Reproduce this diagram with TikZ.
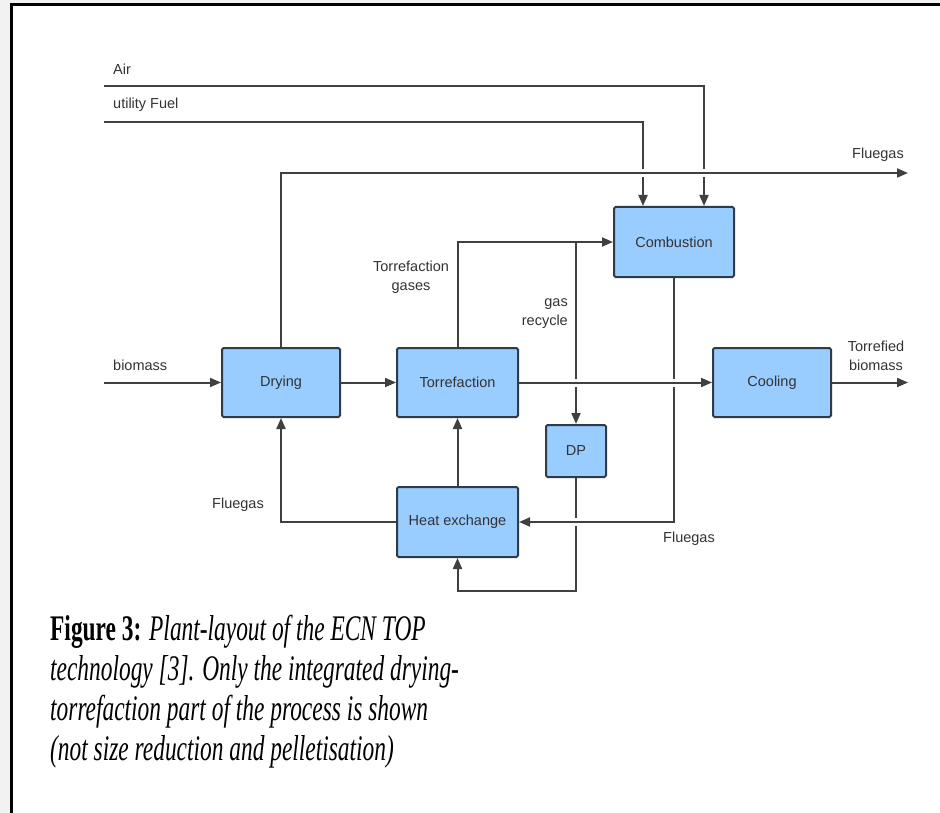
\documentclass[tikz,border=0pt]{standalone}
\usepackage{fontspec}
\setmainfont{Liberation Sans}
\newfontfamily\capfont{Liberation Serif}
\usetikzlibrary{arrows.meta,calc}
\pgfdeclarelayer{back}
\pgfdeclarelayer{lines}
\pgfsetlayers{back,lines,main}
\definecolor{boxfill}{HTML}{99CCFF}
\definecolor{boxline}{HTML}{2F3B45}
\definecolor{linecol}{HTML}{404040}
\definecolor{txtcol}{HTML}{333333}
\definecolor{outside}{HTML}{F2F2F2}
\begin{document}
\begin{tikzpicture}[x=1pt,y=-1pt,
  proc/.style={draw=boxline, line width=2pt, fill=boxfill, rounded corners=1.5pt,
    font=\fontsize{14.5}{17}\selectfont, text=txtcol, inner sep=0pt},
  lbl/.style={font=\fontsize{14.5}{19}\selectfont, text=txtcol, inner sep=0pt},
  flow/.style={draw=linecol, line width=2pt, -{Triangle[length=11pt,width=9pt]}},
  gapped/.style={preaction={draw=white, line width=8pt, -}},
  capline/.style={anchor=base west, inner sep=0pt, text=black, font=\capfont\fontsize{36}{40}\selectfont}]
\useasboundingbox (0,0) rectangle (940,813);

% nodes
\node[proc, minimum width=118pt, minimum height=69pt] (dry) at (281,382.5) {Drying};
\node[proc, minimum width=121pt, minimum height=69pt] (torr) at (457.5,382.5) {Torrefaction};
\node[proc, minimum width=118pt, minimum height=69pt] (cool) at (772,382.5) {Cooling};
\node[proc, minimum width=120pt, minimum height=70pt] (comb) at (674,242) {Combustion};
\node[proc, minimum width=60pt, minimum height=52pt] (dp) at (576,451) {DP};
\node[proc, minimum width=121pt, minimum height=70pt] (hx) at (457.5,522) {Heat exchange};

% free ends
\coordinate (airS) at (104,86);
\coordinate (fuelS) at (104,122);
\coordinate (bioS) at (104,382.5);
\coordinate (flueE) at (908,173);
\coordinate (prodE) at (908,382.5);
\coordinate (split) at (dp.north |- comb.west);
\coordinate (dpb) at (576,591);

\begin{pgfonlayer}{back}
  \fill[outside] (0,0) rectangle (940,813);
  \draw[draw=black, fill=white, line width=3pt] (11,5) rectangle (960,840);
\end{pgfonlayer}

\begin{pgfonlayer}{lines}
  % vertical-first paths
  \draw[flow] (airS) -| ([xshift=30pt]comb.north);
  \draw[flow] (fuelS) -| ([xshift=-31pt]comb.north);
  \draw[flow] (split) -- (dp.north);
  \draw[flow] (dp.south) -- (dpb) -| (hx.south);
  \draw[flow] (torr.north) |- (comb.west);
  % crossing paths drawn on top with gaps
  \draw[flow, gapped] (comb.south) |- (hx.east);
  \draw[flow, gapped] (torr.east) -- (cool.west);
  \draw[flow, gapped] (dry.north) |- (flueE);
  \draw[flow] (bioS) -- (dry.west);
  \draw[flow] (dry.east) -- (torr.west);
  \draw[flow] (cool.east) -- (prodE);
  \draw[flow] (hx.west) -| (dry.south);
  \draw[flow] (hx.north) -- (torr.south);
\end{pgfonlayer}

% labels
\node[lbl, anchor=west] (lAir) at (113,69) {Air};
\node[lbl, anchor=west] (lFuel) at (113,105) {utility Fuel};
\node[lbl] (lFlue1) at (878,155) {Fluegas};
\node[lbl, align=center] (lTg) at (411,277.5) {Torrefaction\\gases};
\node[lbl, align=right, anchor=east] (lGr) at (568,314) {gas\\recycle};
\node[lbl, anchor=west] (lBio) at (113,365) {biomass};
\node[lbl, align=center] (lTb) at (876,356) {Torrefied\\biomass};
\node[lbl] (lFlue2) at (238,505) {Fluegas};
\node[lbl] (lFlue3) at (689,539) {Fluegas};

% caption
\node[capline] (cap1) at (50,640) {\scalebox{0.65}[1]{\textbf{Figure 3:} \textit{Plant-layout of the ECN TOP}}};
\node[capline] (cap2) at (50,680) {\scalebox{0.65}[1]{\textit{technology [3]. Only the integrated drying-}}};
\node[capline] (cap3) at (50,720) {\scalebox{0.65}[1]{\textit{torrefaction part of the process is shown}}};
\node[capline] (cap4) at (50,760) {\scalebox{0.65}[1]{\textit{(not size reduction and pelletisation)}}};
\end{tikzpicture}
\end{document}
